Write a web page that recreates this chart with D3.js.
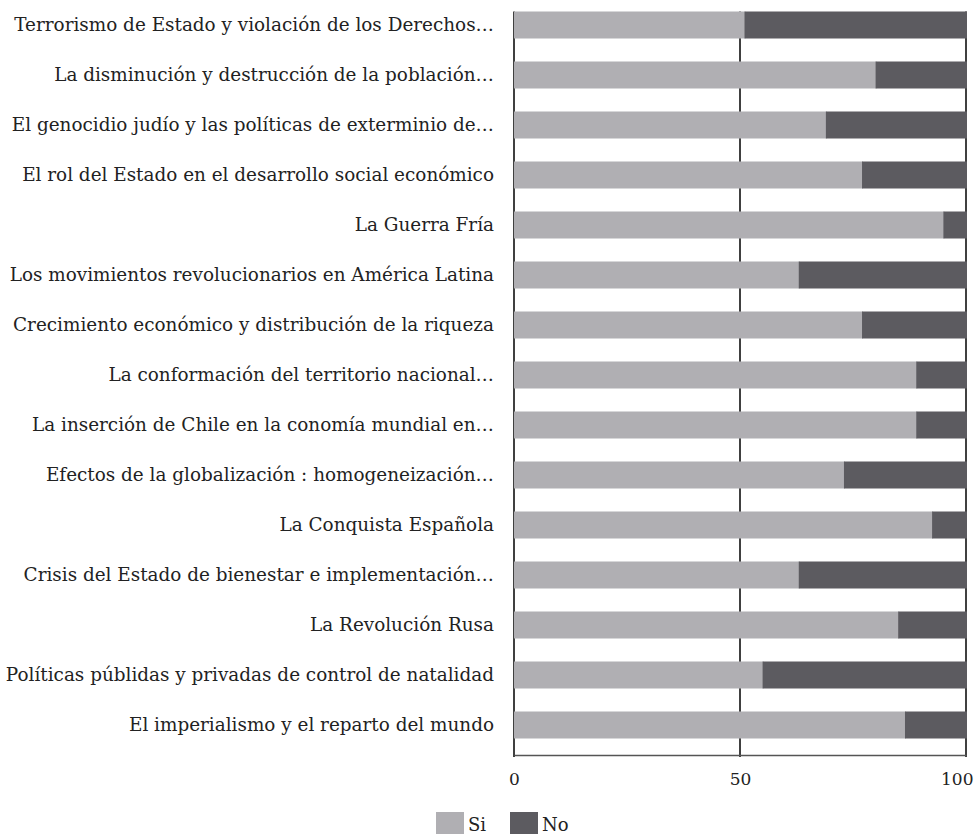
<!DOCTYPE html>
<html>
<head>
<meta charset="utf-8">
<script src="https://cdn.jsdelivr.net/npm/d3@7"></script>
<style>
  body { margin: 0; background: #fff; }
  svg { display: block; }
  text { font-family: "DejaVu Serif", serif; fill: #222; }
</style>
</head>
<body>
<svg id="svg" width="974" height="834"></svg>
<script>
// data
var categories = [
  "Terrorismo de Estado y violación de los Derechos…",
  "La disminución y destrucción de la población…",
  "El genocidio judío y las políticas de exterminio de…",
  "El rol del Estado en el desarrollo social económico",
  "La Guerra Fría",
  "Los movimientos revolucionarios en América Latina",
  "Crecimiento económico y distribución de la riqueza",
  "La conformación del territorio nacional…",
  "La inserción de Chile en la conomía mundial en…",
  "Efectos de la globalización : homogeneización…",
  "La Conquista Española",
  "Crisis del Estado de bienestar e implementación…",
  "La Revolución Rusa",
  "Políticas públidas y privadas de control de natalidad",
  "El imperialismo y el reparto del mundo"
];
var si = [51, 80, 69, 77, 95, 63, 77, 89, 89, 73, 92.5, 63, 85, 55, 86.5];
var no = si.map(function (v) { return 100 - v; });
var seriesNames = ["Si", "No"];
var colors = ["#b0afb3", "#5c5b60"];
var xTicks = [0, 50, 100];

var svg = d3.select("#svg");
var padding = { top: 0, left: 514, right: 8 };
var plotH = 750;

var xScale = d3.scaleLinear().domain([0, 100]).range([padding.left, 966]);
var yScale = d3.scaleBand().domain(categories).range([padding.top, padding.top + plotH])
  .paddingInner(0.46).paddingOuter(0.23);

var rows = categories.map(function (c, i) { return { cat: c, Si: si[i], No: no[i] }; });
var stacked = d3.stack().keys(seriesNames)(rows);

// vertical grid lines (under bars)
svg.append("g").selectAll("line")
  .data(xTicks)
  .enter().append("line")
  .attr("x1", function (d) { return xScale(d); })
  .attr("x2", function (d) { return xScale(d); })
  .attr("y1", yScale(categories[0]))
  .attr("y2", 757)
  .attr("stroke", "#000")
  .attr("stroke-width", 1.5);

// bars
svg.append("g").selectAll("g")
  .data(stacked)
  .enter().append("g")
  .attr("fill", function (d, i) { return colors[i]; })
  .selectAll("rect")
  .data(function (d) { return d; })
  .enter().append("rect")
  .attr("x", function (d) { return xScale(d[0]); })
  .attr("y", function (d) { return yScale(d.data.cat); })
  .attr("width", function (d) { return xScale(d[1]) - xScale(d[0]) + 1; })
  .attr("height", yScale.bandwidth());

// category labels
svg.append("g").selectAll("text")
  .data(categories)
  .enter().append("text")
  .attr("x", 494)
  .attr("y", function (d) { return yScale(d) + yScale.bandwidth() / 2; })
  .attr("dy", "0.35em")
  .attr("text-anchor", "end")
  .style("font-size", "18.4px")
  .text(function (d) { return d; });

// x axis
var xAxis = svg.append("g")
  .attr("transform", "translate(0,755)")
  .call(d3.axisBottom(xScale).tickValues(xTicks).tickSize(0).tickPadding(18));
xAxis.select(".domain").attr("stroke", "#555").attr("stroke-width", 1.5);
xAxis.selectAll("text").style("font-family", "\"DejaVu Serif\", serif").style("font-size", "17px").attr("fill", "#222");
// last tick label kept inside the page
xAxis.selectAll(".tick text").filter(function (d) { return d === 100; })
  .attr("text-anchor", "end").attr("x", 973 - xScale(100));

// legend
var legend = svg.append("g").selectAll("g")
  .data(seriesNames)
  .enter().append("g")
  .attr("transform", function (d, i) { return "translate(" + (436 + i * 74) + ",812)"; });
legend.append("rect")
  .attr("width", 28).attr("height", 28)
  .attr("fill", function (d, i) { return colors[i]; });
legend.append("text")
  .attr("x", 32).attr("y", 19)
  .style("font-size", "18px")
  .text(function (d) { return d; });
</script>
</body>
</html>
